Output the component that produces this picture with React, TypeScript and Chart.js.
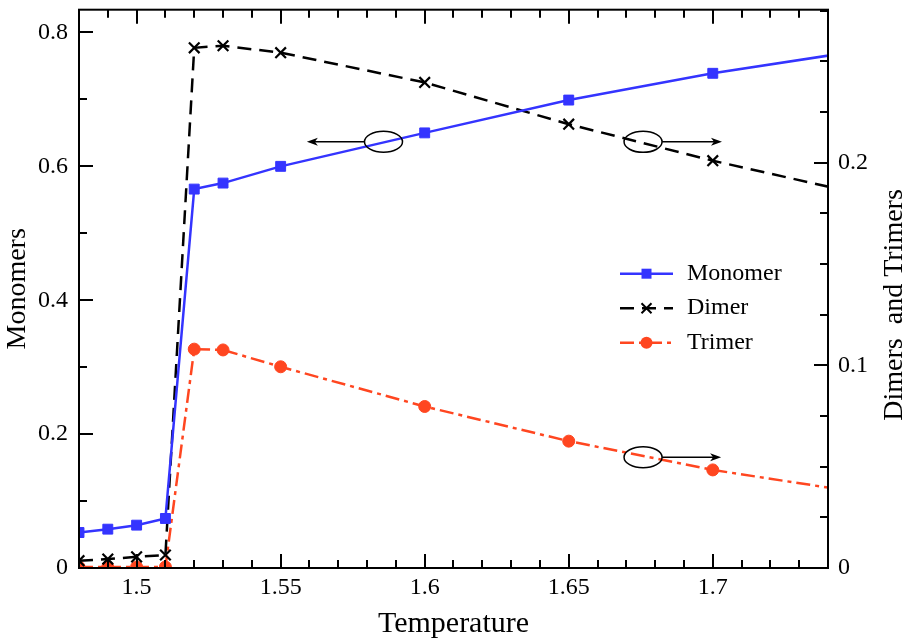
import React, { useEffect, useRef } from 'react';
import { Chart, registerables } from 'chart.js';

Chart.register(...registerables);

// ---- data ----
const temperature = [1.48, 1.49, 1.5, 1.51, 1.52, 1.53, 1.55, 1.6, 1.65, 1.7, 1.75];
const monomer = [0.053, 0.058, 0.064, 0.074, 0.566, 0.575, 0.6, 0.65, 0.699, 0.739, 0.772];
const dimer = [0.0036, 0.0044, 0.0055, 0.0064, 0.2567, 0.2577, 0.2543, 0.2396, 0.219, 0.201, 0.185];
const trimer = [0.0005, 0.0005, 0.0005, 0.0005, 0.108, 0.1076, 0.0993, 0.0797, 0.0626, 0.0484, 0.0375];

const seriesNames = ['Monomer', 'Dimer', 'Trimer'];

const xTickValues = [1.5, 1.55, 1.6, 1.65, 1.7];
const xTickLabels = ['1.5', '1.55', '1.6', '1.65', '1.7'];
const leftTickValues = [0, 0.2, 0.4, 0.6, 0.8];
const leftTickLabels = ['0', '0.2', '0.4', '0.6', '0.8'];
const rightTickValues = [0, 0.1, 0.2];
const rightTickLabels = ['0', '0.1', '0.2'];

const xRange = [1.48, 1.74];
const leftRange = [0, 0.834];
const rightRange = [0, 0.2755];
const xMinorStep = 0.01;
const leftMinorStep = 0.1;
const rightMinorStep = 0.025;

const xTitle = 'Temperature';
const leftTitle = 'Monomers';
const rightTitle = 'Dimers  and Trimers';

// ellipse markers with arrows pointing to the axis each curve belongs to
const annotations = [
  { x: 1.5857, y: 0.6367, axis: 'y', arrowTo: 1.5591 },
  { x: 1.6758, y: 0.2103, axis: 'y2', arrowTo: 1.7032 },
  { x: 1.6758, y: 0.0547, axis: 'y2', arrowTo: 1.7029 },
];

const FONT = "'Liberation Serif', 'Times New Roman', serif";
const BLUE = '#3434ff';
const BLACK = '#000000';
const RED = '#ff4620';

const styles = [
  { color: BLUE, dash: [] as number[], point: 'rect', radius: 7 },
  { color: BLACK, dash: [14, 8], point: 'crossRot', radius: 7.5 },
  { color: RED, dash: [14, 5, 4, 5], point: 'circle', radius: 6 },
];

function drawMarker(ctx: CanvasRenderingContext2D, kind: string, x: number, y: number, color: string) {
  ctx.save();
  ctx.setLineDash([]);
  ctx.fillStyle = color;
  ctx.strokeStyle = color;
  if (kind === 'rect') {
    ctx.fillRect(x - 5, y - 5, 10, 10);
  } else if (kind === 'circle') {
    ctx.beginPath();
    ctx.arc(x, y, 6, 0, Math.PI * 2);
    ctx.fill();
  } else {
    ctx.lineWidth = 2;
    ctx.beginPath();
    ctx.moveTo(x - 5, y - 5);
    ctx.lineTo(x + 5, y + 5);
    ctx.moveTo(x + 5, y - 5);
    ctx.lineTo(x - 5, y + 5);
    ctx.stroke();
  }
  ctx.restore();
}

const decorPlugin = {
  id: 'decor',
  afterDatasetsDraw(chart: any) {
    const ctx: CanvasRenderingContext2D = chart.ctx;
    const { left, right, top, bottom } = chart.chartArea;
    const sx = chart.scales.x;
    const sy = chart.scales.y;
    const sy2 = chart.scales.y2;
    ctx.save();
    ctx.strokeStyle = '#000';
    ctx.lineWidth = 2;
    ctx.setLineDash([]);
    // frame
    ctx.strokeRect(left, top, right - left, bottom - top);
    const MAJ = 14;
    const MIN = 8;
    ctx.beginPath();
    // x ticks (bottom & top)
    const nX = Math.round((xRange[1] - xRange[0]) / xMinorStep);
    for (let i = 0; i <= nX; i++) {
      const v = xRange[0] + i * xMinorStep;
      const isMajor = xTickValues.some((t) => Math.abs(t - v) < 1e-6);
      const px = Math.round(sx.getPixelForValue(v));
      const len = isMajor ? MAJ : MIN;
      ctx.moveTo(px, bottom);
      ctx.lineTo(px, bottom - len);
      ctx.moveTo(px, top);
      ctx.lineTo(px, top + len);
    }
    // left ticks
    for (let v = 0; v <= leftRange[1] + 1e-9; v += leftMinorStep) {
      const isMajor = leftTickValues.some((t) => Math.abs(t - v) < 1e-6);
      const py = Math.round(sy.getPixelForValue(v));
      ctx.moveTo(left, py);
      ctx.lineTo(left + (isMajor ? MAJ : MIN), py);
    }
    // right ticks
    for (let v = 0; v <= rightRange[1] + 1e-9; v += rightMinorStep) {
      const isMajor = rightTickValues.some((t) => Math.abs(t - v) < 1e-6);
      const py = Math.round(sy2.getPixelForValue(v));
      ctx.moveTo(right, py);
      ctx.lineTo(right - (isMajor ? MAJ : MIN), py);
    }
    ctx.stroke();

    // annotations: ellipse + arrow
    ctx.lineWidth = 1.5;
    annotations.forEach((a) => {
      const scaleY = a.axis === 'y' ? sy : sy2;
      const cx = sx.getPixelForValue(a.x);
      const cy = scaleY.getPixelForValue(a.y);
      const tx = sx.getPixelForValue(a.arrowTo);
      const rx = 19;
      const ry = 10.5;
      ctx.beginPath();
      ctx.ellipse(cx, cy, rx, ry, 0, 0, Math.PI * 2);
      ctx.stroke();
      const dir = tx < cx ? -1 : 1;
      const sxp = cx + dir * rx;
      ctx.beginPath();
      ctx.moveTo(sxp, cy);
      ctx.lineTo(tx - dir * 6, cy);
      ctx.stroke();
      ctx.beginPath();
      ctx.moveTo(tx, cy);
      ctx.lineTo(tx - dir * 11, cy - 4);
      ctx.lineTo(tx - dir * 8, cy);
      ctx.lineTo(tx - dir * 11, cy + 4);
      ctx.closePath();
      ctx.fillStyle = '#000';
      ctx.fill();
    });

    // legend
    const lx0 = left + 541;
    const lx1 = left + 594;
    const ly0 = top + 264;
    const lstep = 34.5;
    seriesNames.forEach((name, i) => {
      const st = styles[i];
      const y = ly0 + i * lstep;
      ctx.save();
      ctx.strokeStyle = st.color;
      ctx.lineWidth = 2.5;
      ctx.setLineDash(st.dash);
      ctx.beginPath();
      ctx.moveTo(lx0, y);
      ctx.lineTo(lx1, y);
      ctx.stroke();
      ctx.restore();
      drawMarker(ctx, st.point, (lx0 + lx1) / 2, y, st.color);
      ctx.fillStyle = '#000';
      ctx.font = `24px ${FONT}`;
      ctx.textAlign = 'left';
      ctx.textBaseline = 'middle';
      ctx.fillText(name, lx1 + 14, y);
    });

    // right axis title (reads bottom to top)
    ctx.save();
    ctx.translate(right + 74, top + 411);
    ctx.rotate(-Math.PI / 2);
    ctx.font = `28px ${FONT}`;
    ctx.fillStyle = '#000';
    ctx.textAlign = 'left';
    ctx.textBaseline = 'alphabetic';
    ctx.fillText(rightTitle, 0, 0);
    ctx.restore();

    ctx.restore();
  },
};

export default function App() {
  const ref = useRef<HTMLCanvasElement | null>(null);
  useEffect(() => {
    document.body.style.margin = '0';
    if (!ref.current) return;
    const mk = (ys: number[]) => temperature.map((t, i) => ({ x: t, y: ys[i] }));
    const series = [monomer, dimer, trimer];
    const axes = ['y', 'y2', 'y2'];
    const chart = new Chart(ref.current, {
      type: 'line',
      data: {
        datasets: seriesNames.map((name, i) => ({
          label: name,
          data: mk(series[i]),
          yAxisID: axes[i],
          borderColor: styles[i].color,
          backgroundColor: styles[i].color,
          borderWidth: 2.5,
          borderDash: styles[i].dash,
          pointStyle: styles[i].point as any,
          pointRadius: styles[i].radius,
          pointBorderWidth: i === 1 ? 2.2 : 1,
          pointBorderColor: styles[i].color,
          pointBackgroundColor: styles[i].color,
          tension: 0,
          fill: false,
        })),
      },
      options: {
        animation: false,
        responsive: false,
        devicePixelRatio: 1,
        layout: { padding: { top: 6, left: 0, right: 0, bottom: 0 } },
        plugins: { legend: { display: false }, tooltip: { enabled: false } },
        scales: {
          x: {
            type: 'linear',
            position: 'bottom',
            min: xRange[0],
            max: xRange[1],
            afterBuildTicks: (s: any) => {
              s.ticks = xTickValues.map((v) => ({ value: v }));
            },
            afterFit: (s: any) => {
              s.height = 71;
              s.paddingLeft = 0;
              s.paddingRight = 0;
              s.paddingTop = 0;
              s.paddingBottom = 0;
            },
            grid: { display: false, drawTicks: false, tickLength: 0 },
            border: { display: false },
            ticks: {
              color: '#000',
              font: { family: FONT, size: 24, lineHeight: 1 },
              padding: 8,
              maxRotation: 0,
              autoSkip: false,
              callback: (_v: any, idx: number) => xTickLabels[idx],
            },
            title: {
              display: true,
              text: xTitle,
              color: '#000',
              font: { family: FONT, size: 30, lineHeight: 1 },
              padding: { top: 0, bottom: 0 },
            },
          },
          y: {
            type: 'linear',
            position: 'left',
            min: leftRange[0],
            max: leftRange[1],
            afterBuildTicks: (s: any) => {
              s.ticks = leftTickValues.map((v) => ({ value: v }));
            },
            afterFit: (s: any) => {
              s.width = 79;
              s.paddingLeft = 0;
              s.paddingRight = 0;
              s.paddingTop = 0;
              s.paddingBottom = 0;
            },
            grid: { display: false, drawTicks: false, tickLength: 0 },
            border: { display: false },
            ticks: {
              color: '#000',
              font: { family: FONT, size: 24, lineHeight: 1 },
              padding: 11,
              autoSkip: false,
              callback: (_v: any, idx: number) => leftTickLabels[idx],
            },
            title: {
              display: true,
              text: leftTitle,
              color: '#000',
              font: { family: FONT, size: 28, lineHeight: 1 },
              padding: { top: 4, bottom: 0 },
            },
          },
          y2: {
            type: 'linear',
            position: 'right',
            min: rightRange[0],
            max: rightRange[1],
            afterBuildTicks: (s: any) => {
              s.ticks = rightTickValues.map((v) => ({ value: v }));
            },
            afterFit: (s: any) => {
              s.width = 74;
              s.paddingLeft = 0;
              s.paddingRight = 0;
              s.paddingTop = 0;
              s.paddingBottom = 0;
            },
            grid: { display: false, drawTicks: false, tickLength: 0 },
            border: { display: false },
            ticks: {
              color: '#000',
              font: { family: FONT, size: 24, lineHeight: 1 },
              padding: 10,
              autoSkip: false,
              callback: (_v: any, idx: number) => rightTickLabels[idx],
            },
          },
        },
      },
      plugins: [decorPlugin],
    } as any);
    return () => chart.destroy();
  }, []);
  return (
    <div style={{ width: 902, height: 639, background: '#fff' }}>
      <canvas ref={ref} width={902} height={639} style={{ display: 'block' }} />
    </div>
  );
}
